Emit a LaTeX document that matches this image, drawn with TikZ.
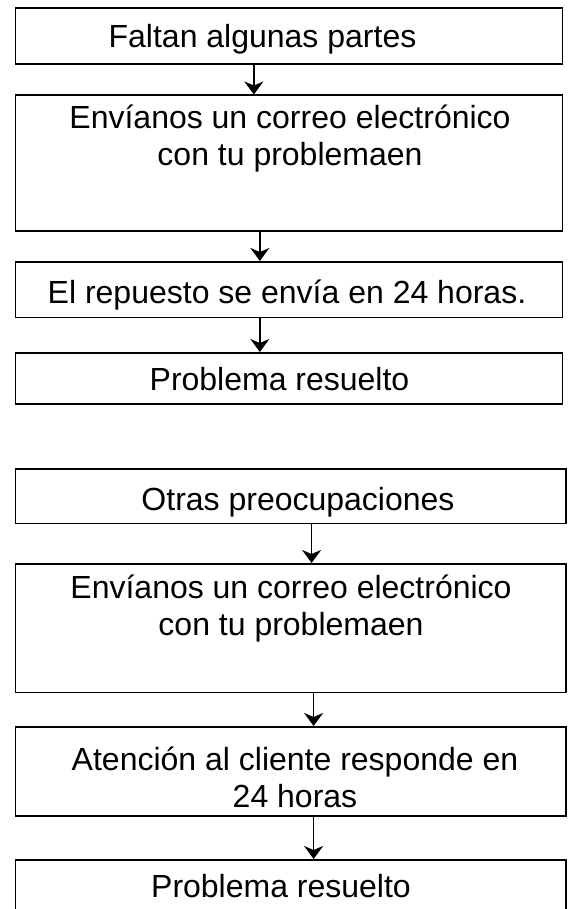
\documentclass[tikz,border=0pt]{standalone}
\usepackage{fontspec}
\setmainfont{Liberation Sans}
\usetikzlibrary{arrows.meta}

\tikzset{
  box/.style={draw, line width=1.7pt, minimum width=547pt, anchor=north west, inner sep=0pt},
  lbl/.style={inner sep=0pt, font=\fontsize{32}{37}\selectfont, align=center},
  flow/.style={line width=1.7pt, -{Stealth[length=13pt,width=19pt,inset=4pt]}}
}

\begin{document}
\begin{tikzpicture}[x=1pt,y=-1pt]
\useasboundingbox (0,0) rectangle (570,909);

% first flow: missing parts
\node[box, minimum height=55.8pt] (b1) at (14.5,7.5) {};
\node[box, minimum height=135.5pt] (b2) at (14.5,94.5) {};
\node[box, minimum height=55.7pt] (b3) at (14.5,261) {};
\node[box, minimum height=51pt] (b4) at (14.5,352) {};

\node[lbl, anchor=base] (t1) at (262.5,48) {Faltan algunas partes};
\node[lbl, anchor=north] (t2) at (290,105) {Envíanos un correo electrónico\\con tu problemaen};
\node[lbl, anchor=base] (t3) at (287,303) {El repuesto se envía en 24 horas.};
\node[lbl, anchor=base] (t4) at (279.5,390) {Problema resuelto};

\draw[flow] ([xshift=-35pt]b1.south) -- ([xshift=-35pt]b2.north);
\draw[flow] ([xshift=-29pt]b2.south) -- ([xshift=-29pt]b3.north);
\draw[flow] ([xshift=-29pt]b3.south) -- ([xshift=-29pt]b4.north);

% second flow: other concerns
\node[box, minimum width=550.5pt, minimum height=54.7pt] (b5) at (14.5,468) {};
\node[box, minimum width=550.5pt, minimum height=128.7pt] (b6) at (14.5,563) {};
\node[box, minimum width=550.5pt, minimum height=89pt] (b7) at (14.5,726) {};
\node[box, minimum width=550.5pt, minimum height=56pt] (b8) at (14.5,859) {};

\node[lbl, anchor=base] (t5) at (298,510) {Otras preocupaciones};
\node[lbl, anchor=north] (t6) at (291,575) {Envíanos un correo electrónico\\con tu problemaen};
\node[lbl, anchor=north] (t7) at (295,747) {Atención al cliente responde en\\24 horas};
\node[lbl, anchor=base] (t8) at (281,897) {Problema resuelto};

\draw[flow] ([xshift=21pt]b5.south) -- ([xshift=21pt]b6.north);
\draw[flow] ([xshift=23pt]b6.south) -- ([xshift=23pt]b7.north);
\draw[flow] ([xshift=23pt]b7.south) -- ([xshift=23pt]b8.north);
\end{tikzpicture}
\end{document}
